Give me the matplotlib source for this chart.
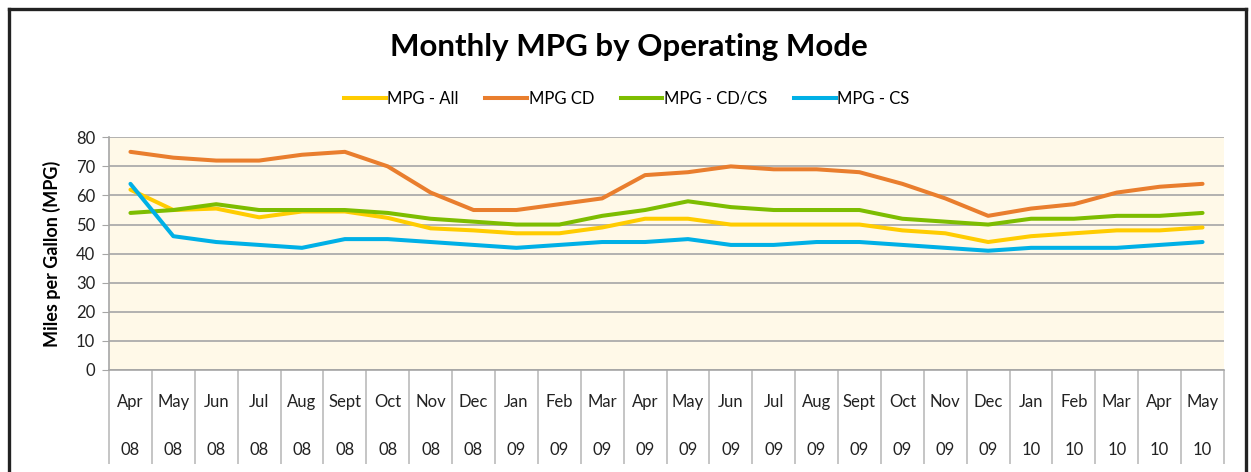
import matplotlib
matplotlib.use("Agg")
import matplotlib.pyplot as plt
from matplotlib.lines import Line2D

plt.rcParams["font.family"] = ["Lato", "DejaVu Sans"]

months = ["Apr", "May", "Jun", "Jul", "Aug", "Sept", "Oct", "Nov", "Dec",
          "Jan", "Feb", "Mar", "Apr", "May", "Jun", "Jul", "Aug", "Sept",
          "Oct", "Nov", "Dec", "Jan", "Feb", "Mar", "Apr", "May"]
years = ["08"] * 9 + ["09"] * 12 + ["10"] * 5

mpg_all = [62, 55, 55.5, 52.5, 54.5, 54.5, 52.3, 48.7, 48, 47, 47, 49, 52,
           52, 50, 50, 50, 50, 48, 47, 44, 46, 47, 48, 48, 49]
mpg_cd = [75, 73, 72, 72, 74, 75, 70, 61, 55, 55, 57, 59, 67, 68, 70, 69,
          69, 68, 64, 59, 53, 55.5, 57, 61, 63, 64]
mpg_cdcs = [54, 55, 57, 55, 55, 55, 54, 52, 51, 50, 50, 53, 55, 58, 56, 55,
            55, 55, 52, 51, 50, 52, 52, 53, 53, 54]
mpg_cs = [64, 46, 44, 43, 42, 45, 45, 44, 43, 42, 43, 44, 44, 45, 43, 43,
          44, 44, 43, 42, 41, 42, 42, 42, 43, 44]

series = [("MPG - All", mpg_all, "#FFCC00"),
          ("MPG CD", mpg_cd, "#E97E2E"),
          ("MPG - CD/CS", mpg_cdcs, "#7DBD00"),
          ("MPG - CS", mpg_cs, "#00B0E6")]

fig = plt.figure(figsize=(12.51, 4.72), dpi=100)
ax = fig.add_axes([109 / 1251, 1 - 370 / 472, 1115 / 1251, 232.7 / 472])
ax.set_facecolor("#FFF9E8")

x = list(range(len(months)))
for name, vals, col in series:
    ax.plot(x, vals, color=col, lw=2.9, label=name, solid_capstyle="round")

ax.set_xlim(-0.5, len(months) - 0.5)
ax.set_ylim(0, 80)
ax.set_yticks(range(0, 81, 10))
ax.yaxis.grid(True, color="#A6A6A6", lw=1.2)
ax.set_axisbelow(True)
for s in ["top", "right"]:
    ax.spines[s].set_visible(False)
ax.spines["left"].set_color("#A6A6A6")
ax.spines["bottom"].set_color("#A6A6A6")
ax.spines["left"].set_linewidth(1.2)
ax.spines["bottom"].set_linewidth(1.2)
ax.tick_params(axis="y", length=5, color="#A6A6A6", labelsize=12,
               labelcolor="#222222", pad=5)

ax.set_xticks(x, [f"{m}\n\n{y}" for m, y in zip(months, years)])
ax.tick_params(axis="x", which="major", length=0, labelsize=12,
               labelcolor="#222222", pad=17)
for lab in ax.get_xticklabels():
    lab.set_linespacing(1.62)
ax.set_xticks([i - 0.5 for i in range(len(months) + 1)], minor=True)
ax.tick_params(axis="x", which="minor", length=68, color="#B5B5B5", width=1.1)

ax.set_ylabel("Miles per Gallon (MPG)", fontsize=13, fontweight="bold",
              labelpad=11)

fig.text(0.503, 1 - 47 / 472, "Monthly MPG by Operating Mode", ha="center",
         va="center", fontsize=22.5, fontweight="bold")

handles = [Line2D([], [], color=c, lw=2.9) for _, _, c in series]
fig.legend(handles, [n for n, _, _ in series], loc="center",
           bbox_to_anchor=(0.501, 1 - 99 / 472), ncol=4, frameon=False,
           fontsize=12, handlelength=2.5, handletextpad=0.1,
           columnspacing=1.6)

# outer frame (left, top, right)
fig.add_artist(Line2D([9 / 1251, 9 / 1251], [0, 1 - 9 / 472],
                      transform=fig.transFigure, color="#222222", lw=2.4))
fig.add_artist(Line2D([9 / 1251, 1246 / 1251], [1 - 9 / 472, 1 - 9 / 472],
                      transform=fig.transFigure, color="#222222", lw=2.4))
fig.add_artist(Line2D([1246 / 1251, 1246 / 1251], [0, 1 - 9 / 472],
                      transform=fig.transFigure, color="#222222", lw=2.4))

fig.savefig("out.png", dpi=100)
